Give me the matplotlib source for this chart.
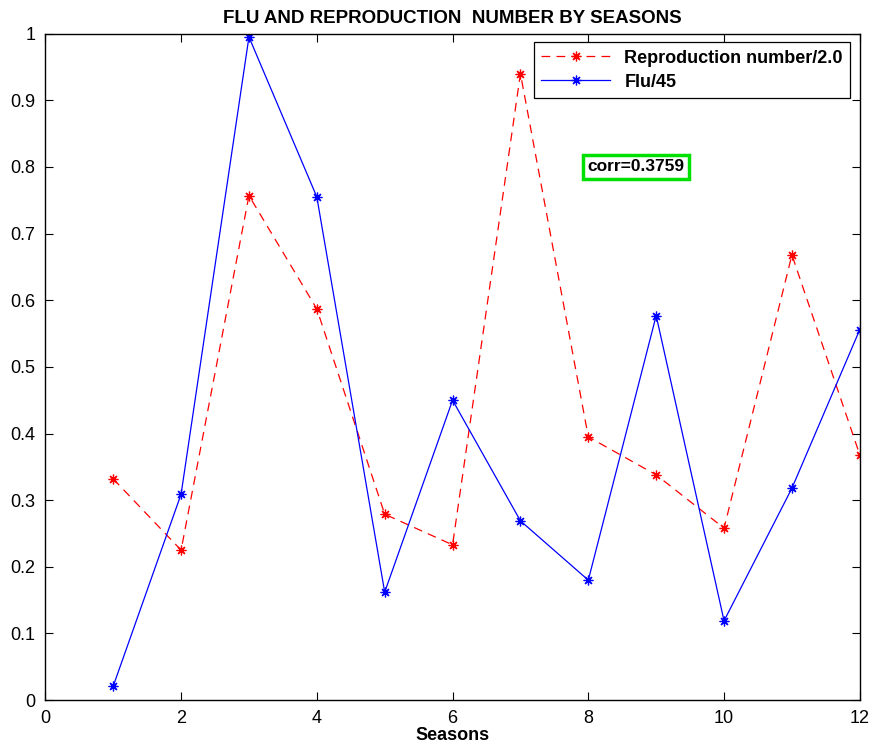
import numpy as np
import matplotlib
matplotlib.use("Agg")
import matplotlib.pyplot as plt

plt.rcParams['font.family'] = ['Liberation Sans', 'DejaVu Sans']

# data
seasons = [1, 2, 3, 4, 5, 6, 7, 8, 9, 10, 11, 12]
repro = [0.332, 0.225, 0.757, 0.587, 0.279, 0.233, 0.940, 0.395, 0.338, 0.258, 0.668, 0.368]
flu = [0.021, 0.309, 0.995, 0.755, 0.162, 0.450, 0.269, 0.180, 0.577, 0.119, 0.318, 0.556]
corr_text = "corr=0.3759"

fig = plt.figure(figsize=(8.72, 7.48), dpi=100)
ax = fig.add_axes([0.052, 0.064, 0.934, 0.891])

star = (8, 2, 0)   # asterisk marker like matlab '*'
ax.plot(seasons, repro, color="red", linestyle=(0, (7, 5)), linewidth=0.9,
        marker=star, markersize=7, markeredgewidth=0.9, label="Reproduction number/2.0")
ax.plot(seasons, flu, color="blue", linestyle="-", linewidth=0.9,
        marker=star, markersize=7, markeredgewidth=0.9, label="Flu/45")

ax.set_xlim(0, 12)
ax.set_ylim(0, 1)
ax.set_xticks(np.arange(0, 13, 2))
ax.set_yticks(np.arange(0, 1.01, 0.1))
ax.set_yticklabels(["0", "0.1", "0.2", "0.3", "0.4", "0.5", "0.6", "0.7", "0.8", "0.9", "1"])
ax.tick_params(direction="in", top=True, right=True, labelsize=13, length=6, width=0.8, pad=7)
for s in ax.spines.values():
    s.set_linewidth(1.0)

ax.set_xlabel("Seasons", fontsize=13, fontweight="bold", labelpad=0)
ax.set_title("FLU AND REPRODUCTION  NUMBER BY SEASONS", fontsize=13.5, fontweight="bold", pad=8)

leg = ax.legend(loc="upper right", bbox_to_anchor=(0.988, 0.987), fancybox=False,
                edgecolor="black", framealpha=1, prop={"weight": "bold", "size": 13},
                handlelength=3.8, borderpad=0.4, labelspacing=0.4, handletextpad=0.8,
                borderaxespad=0)
leg.get_frame().set_linewidth(0.9)

ax.text(7.99, 0.8, corr_text, fontsize=12.5, fontweight="bold", va="center", ha="left",
        bbox=dict(boxstyle="square,pad=0.25", facecolor="white", edgecolor="#00e000", linewidth=2.5))

fig.savefig("out.png", dpi=100)
